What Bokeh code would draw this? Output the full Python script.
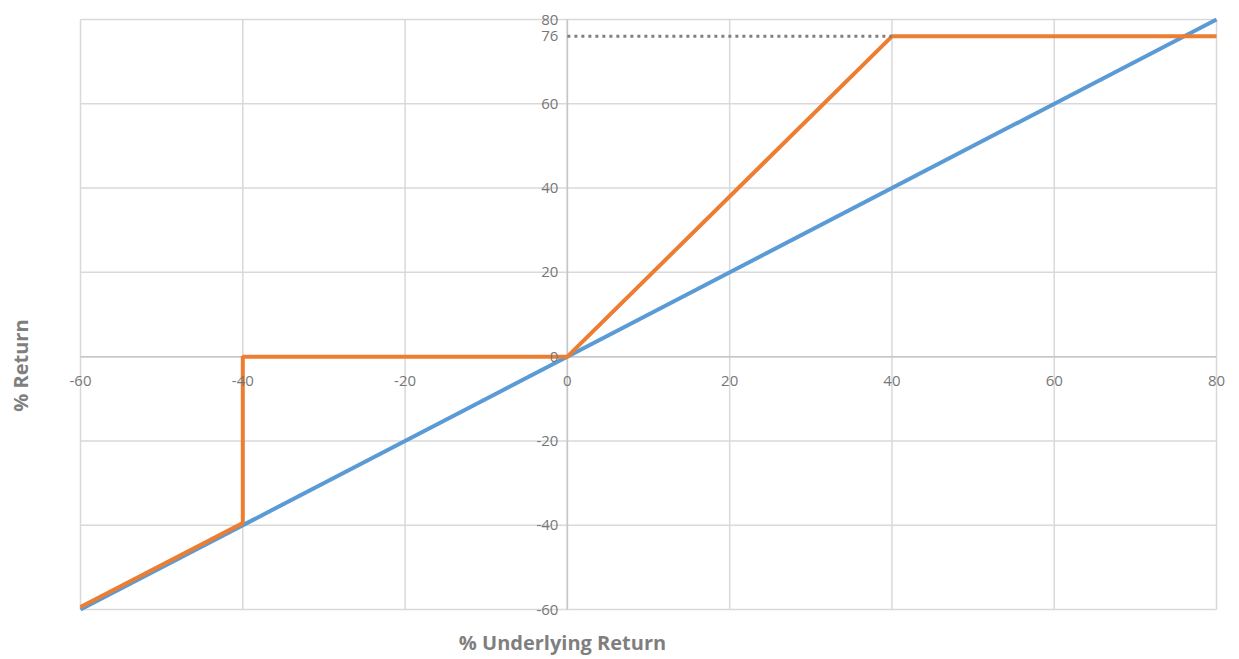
from bokeh.plotting import figure
from bokeh.models import Label
from bokeh.embed import file_html
from bokeh.resources import INLINE

# Data
underlying_x = [-60, 80]
underlying_y = [-60, 80]
product_x = [-60, -40, -40, 0, 40, 80]
product_y = [-59.4, -39.5, 0, 0, 76, 76]
cap_x = [0, 40]
cap_y = [76, 76]
x_ticks = [-60, -40, -20, 0, 20, 40, 60, 80]
y_ticks = [-60, -40, -20, 0, 20, 40, 60, 76, 80]
grid_ticks = [-60, -40, -20, 0, 20, 40, 60, 80]
x_title = "% Underlying Return"
y_title = "% Return"

FONT = "Open Sans"
GRID = "#d9d9d9"
TXT = "#7f7f7f"
TICK = "#777777"

# plot area spans -60..80 on both axes; frame extended so that labels are not clipped
p = figure(width=1235, height=659, x_range=(-69.86, 82.34), y_range=(-71.86, 84.51),
           output_backend="svg", toolbar_location=None,
           min_border_left=0, min_border_right=0, min_border_top=0, min_border_bottom=0)
p.axis.visible = False
p.grid.visible = False
p.outline_line_color = None

lo, hi = grid_ticks[0], grid_ticks[-1]
p.segment(x0=grid_ticks, y0=[lo] * len(grid_ticks), x1=grid_ticks, y1=[hi] * len(grid_ticks),
          line_color=GRID, line_width=1.5)
p.segment(x0=[lo] * len(grid_ticks), y0=grid_ticks, x1=[hi] * len(grid_ticks), y1=grid_ticks,
          line_color=GRID, line_width=1.5)
# axes crossing at zero
p.segment(x0=[0, lo], y0=[lo, 0], x1=[0, hi], y1=[hi, 0], line_color="#c6c6c6", line_width=1.5)

for t in x_ticks:
    p.add_layout(Label(x=t, y=0, y_offset=-24, text=str(t), text_align="center",
                       text_baseline="middle", text_font=FONT, text_font_size="15px",
                       text_color=TICK))
for t in y_ticks:
    p.add_layout(Label(x=0, y=t, x_offset=-9, text=str(t), text_align="right",
                       text_baseline="middle", text_font=FONT, text_font_size="15px",
                       text_color=TICK))

p.line(underlying_x, underlying_y, line_color="#5b9bd5", line_width=4)
p.line(product_x, product_y, line_color="#ed7d31", line_width=4)
p.line(cap_x, cap_y, line_color="#7f7f7f", line_width=3, line_dash="3 4")

p.add_layout(Label(x=-0.6, y=-67.84, text=x_title, text_align="center", text_baseline="middle",
                   text_font=FONT, text_font_size="20px", text_font_style="bold", text_color=TXT))
p.add_layout(Label(x=-67.39, y=-2.11, text=y_title, text_align="center", text_baseline="middle",
                   angle=90, angle_units="deg",
                   text_font=FONT, text_font_size="20px", text_font_style="bold", text_color=TXT))

open("out.html", "w").write(file_html(p, INLINE))
